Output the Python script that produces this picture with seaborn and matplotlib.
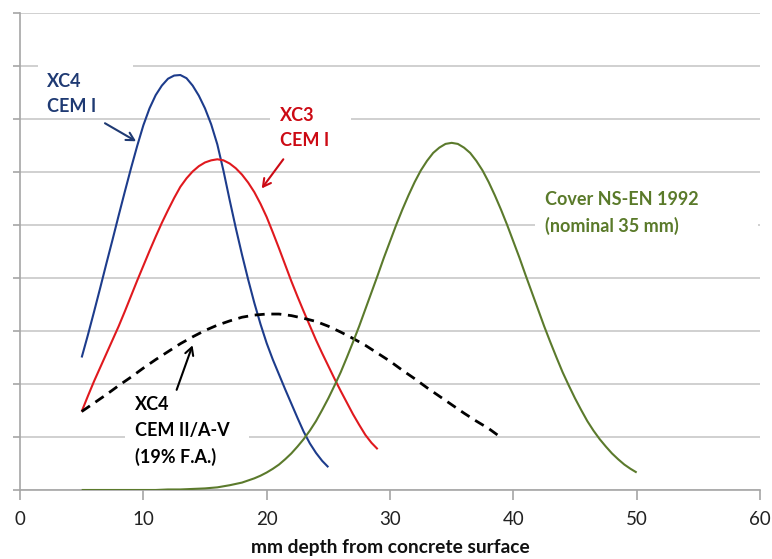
import matplotlib
matplotlib.use("Agg")
import matplotlib.pyplot as plt
from matplotlib.patches import Rectangle
import seaborn as sns
import pandas as pd
import numpy as np

# ---- data ----
xc4_cem1_x = np.arange(5, 25.01, 0.5)
xc4_cem1_y = [2.50, 2.92, 3.36, 3.81, 4.27, 4.72, 5.18, 5.63, 6.07, 6.49, 6.88,
              7.20, 7.45, 7.63, 7.76, 7.82, 7.83, 7.77, 7.63, 7.44, 7.20, 6.90,
              6.52, 6.02, 5.47, 4.94, 4.44, 3.97, 3.53, 3.13, 2.77, 2.46, 2.18,
              1.90, 1.63, 1.36, 1.10, 0.88, 0.70, 0.55, 0.43]

xc3_cem1_x = np.arange(5, 29.01, 0.5)
xc3_cem1_y = [1.48, 1.77, 2.05, 2.31, 2.57, 2.83, 3.09, 3.37, 3.66, 3.95, 4.23,
              4.51, 4.78, 5.04, 5.28, 5.51, 5.72, 5.88, 6.01, 6.11, 6.18, 6.22,
              6.24, 6.22, 6.16, 6.07, 5.95, 5.80, 5.62, 5.40, 5.15, 4.86, 4.56,
              4.25, 3.94, 3.65, 3.37, 3.10, 2.83, 2.58, 2.34, 2.10, 1.87, 1.65,
              1.43, 1.23, 1.04, 0.89, 0.77]

xc4_cem2_x = np.arange(5, 39.01, 1.0)
xc4_cem2_y = [1.48, 1.64, 1.80, 1.97, 2.13, 2.30, 2.46, 2.61, 2.76, 2.89, 3.01, 3.11,
              3.19, 3.26, 3.30, 3.32, 3.32, 3.29, 3.24, 3.18, 3.09, 2.98, 2.86, 2.73,
              2.58, 2.43, 2.26, 2.10, 1.93, 1.77, 1.61, 1.45, 1.30, 1.16, 0.99]

cover_x = np.concatenate([np.arange(5, 19.01, 1.0), np.arange(19.5, 50.01, 0.5)])
cover_y = [0.00, 0.00, 0.00, 0.00, 0.00, 0.00, 0.00, 0.01, 0.01, 0.02, 0.03, 0.05,
           0.09, 0.14, 0.22,
           0.27, 0.33, 0.40, 0.48, 0.58, 0.69, 0.82, 0.96, 1.12, 1.30, 1.51, 1.73,
           1.97, 2.22, 2.50, 2.79, 3.09, 3.41, 3.73, 4.05, 4.38, 4.69, 5.00, 5.29,
           5.56, 5.81, 6.03, 6.21, 6.36, 6.46, 6.53, 6.55, 6.53, 6.46, 6.36, 6.21,
           6.03, 5.81, 5.56, 5.29, 5.00, 4.69, 4.38, 4.05, 3.73, 3.41, 3.09, 2.79,
           2.50, 2.22, 1.97, 1.73, 1.51, 1.30, 1.12, 0.96, 0.82, 0.69, 0.58, 0.48,
           0.40, 0.33]

x_ticks = [0, 10, 20, 30, 40, 50, 60]
x_label = "mm depth from concrete surface"

label_xc4 = "XC4\nCEM I"
label_xc3 = "XC3\nCEM I"
label_cem2 = "XC4\nCEM II/A-V\n(19% F.A.)"
label_cover = "Cover NS-EN 1992\n(nominal 35 mm)"

# ---- style ----
sns.set_style("white")
plt.rcParams['font.family'] = ['Lato', 'DejaVu Sans']

c_blue = "#1d3c8c"
c_blue_txt = "#1f3a73"
c_red = "#e0191e"
c_red_txt = "#cc0a14"
c_green = "#5b7a2c"
c_green_txt = "#5a7a2a"
c_axis = "#a6a6a6"
c_grid = "#c8c8c8"

fig = plt.figure(figsize=(7.72, 5.59), dpi=100)
ax = fig.add_axes([20 / 772, 1 - 490 / 559, 740 / 772, 477 / 559])

df1 = pd.DataFrame({"x": xc4_cem1_x, "y": xc4_cem1_y})
df2 = pd.DataFrame({"x": xc3_cem1_x, "y": xc3_cem1_y})
df3 = pd.DataFrame({"x": xc4_cem2_x, "y": xc4_cem2_y})
df4 = pd.DataFrame({"x": cover_x, "y": cover_y})

line_kw = dict(solid_joinstyle='round', solid_capstyle='butt')
sns.lineplot(data=df1, x="x", y="y", ax=ax, color=c_blue, lw=1.5, zorder=3, **line_kw)
sns.lineplot(data=df2, x="x", y="y", ax=ax, color=c_red, lw=1.5, zorder=3, **line_kw)
sns.lineplot(data=df3, x="x", y="y", ax=ax, color="black", lw=2.0,
             linestyle=(0, (3.6, 2.4)), zorder=3)
sns.lineplot(data=df4, x="x", y="y", ax=ax, color=c_green, lw=1.5, zorder=3, **line_kw)

ax.set_xlim(0, 60)
ax.set_ylim(0, 9)
ax.set_xticks(x_ticks)
ax.set_xticklabels([str(t) for t in x_ticks])
ax.set_yticks(range(0, 10))
ax.set_yticklabels([])
ax.grid(axis='y', color=c_grid, lw=1.2)
ax.grid(axis='x', visible=False)
ax.set_axisbelow(True)
for s in ["top", "right"]:
    ax.spines[s].set_visible(False)
for s in ["left", "bottom"]:
    ax.spines[s].set_color(c_axis)
    ax.spines[s].set_linewidth(1.2)
ax.tick_params(axis='x', length=7, width=1.2, color=c_axis, labelsize=13.5, pad=8,
               labelcolor="#222222", direction='out', bottom=True)
ax.tick_params(axis='y', length=5, width=1.2, color=c_axis, direction='out', left=True)
ax.set_xlabel(x_label, fontsize=13.8, fontweight='bold', labelpad=8, color="#111111")
ax.set_ylabel("")

# white label boxes hiding gridlines
boxes = [(1.46, 7.1, 7.7, 1.1), (20.27, 6.15, 6.57, 1.3),
         (8.5, 0.35, 10.1, 1.5), (41.76, 4.15, 18.1, 1.7)]
for (bx, by, bw, bh) in boxes:
    ax.add_patch(Rectangle((bx, by), bw, bh, facecolor='white', edgecolor='none', zorder=1))

tkw = dict(fontsize=13, fontweight='bold', ha='left', va='center', linespacing=1.62, zorder=4)
ax.text(2.19, 7.47, label_xc4, color=c_blue_txt, **tkw)
ax.text(21.08, 6.83, label_xc3, color=c_red_txt, **tkw)
ax.text(9.32, 1.11, label_cem2, color="black", **tkw)
ax.text(42.57, 5.23, label_cover, color=c_green_txt, **tkw)

akw = dict(arrowstyle='->,head_length=0.55,head_width=0.3', lw=1.5, shrinkA=0, shrinkB=0)
ax.annotate('', xy=(9.41, 6.58), xytext=(6.89, 6.92), arrowprops=dict(color=c_blue_txt, **akw), zorder=4)
ax.annotate('', xy=(19.6, 5.69), xytext=(21.35, 6.24), arrowprops=dict(color=c_red_txt, **akw), zorder=4)
ax.annotate('', xy=(13.99, 2.73), xytext=(12.7, 1.89), arrowprops=dict(color="black", **akw), zorder=4)

legend = ax.get_legend()
if legend is not None:
    legend.remove()

fig.savefig("out.png", dpi=100)
